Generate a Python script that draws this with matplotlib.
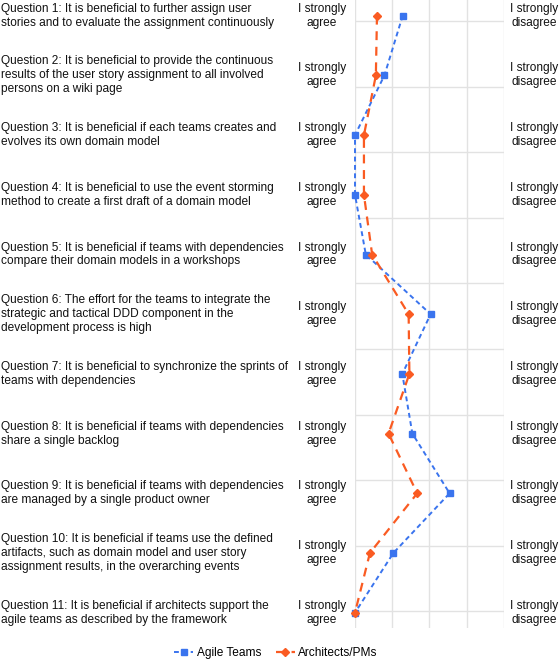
import matplotlib
matplotlib.use("Agg")
import matplotlib.pyplot as plt
from matplotlib.transforms import blended_transform_factory
from matplotlib.lines import Line2D

plt.rcParams["font.family"] = ["Liberation Sans", "DejaVu Sans"]

questions = [
    "Question 1: It is beneficial to further assign user\nstories and to evaluate the assignment continuously",
    "Question 2: It is beneficial to provide the continuous\nresults of the user story assignment to all involved\npersons on a wiki page",
    "Question 3: It is beneficial if each teams creates and\nevolves its own domain model",
    "Question 4: It is beneficial to use the event storming\nmethod to create a first draft of a domain model",
    "Question 5: It is beneficial if teams with dependencies\ncompare their domain models in a workshops",
    "Question 6: The effort for the teams to integrate the\nstrategic and tactical DDD component in the\ndevelopment process is high",
    "Question 7: It is beneficial to synchronize the sprints of\nteams with dependencies",
    "Question 8: It is beneficial if teams with dependencies\nshare a single backlog",
    "Question 9: It is beneficial if teams with dependencies\nare managed by a single product owner",
    "Question 10: It is beneficial if teams use the defined\nartifacts, such as domain model and user story\nassignment results, in the overarching events",
    "Question 11: It is beneficial if architects support the\nagile teams as described by the framework",
]
agile_teams = [2.28, 1.79, 1.0, 1.0, 1.29, 3.03, 2.27, 2.54, 3.54, 2.03, 1.0]
architects = [1.59, 1.56, 1.24, 1.24, 1.46, 2.44, 2.46, 1.90, 2.67, 1.40, 1.0]
scale_ticks = [1, 2, 3, 4, 5]

BLUE = "#3a74ee"
ORANGE = "#fa5b22"
GRID = "#e2e2e2"
FS = 8.6

W, H = 560, 660
fig = plt.figure(figsize=(W / 100, H / 100), dpi=100)

# axes placed in pixel terms: x 355..504, y 0..628
ax = fig.add_axes([355 / W, 1 - 628 / H, (504 - 355) / W, 628 / H])
row0, row_h = 15.7, 59.7
ax.set_ylim((628 - row0) / row_h, (0 - row0) / row_h)
ax.set_xlim(scale_ticks[0], scale_ticks[-1])

for x in scale_ticks:
    ax.axvline(x, color=GRID, lw=1, zorder=0)
for k in range(10):
    ax.axhline((21 + 65.6 * k - row0) / row_h, color=GRID, lw=1, zorder=0)

ys = list(range(len(questions)))
ax.plot(agile_teams, ys, color=BLUE, lw=1.4, ls=(0, (2.5, 1.8)), marker="s",
        markersize=5, clip_on=False, zorder=3)
ax.plot(architects, ys, color=ORANGE, lw=1.6, ls=(0, (4, 3)), marker="D",
        markersize=4, clip_on=False, zorder=4)

for s in ax.spines.values():
    s.set_visible(False)
ax.set_xticks([])
ax.set_yticks([])

tr = blended_transform_factory(fig.transFigure, ax.transData)
for i, q in enumerate(questions):
    fig.text(1 / W, i, q, transform=tr, ha="left", va="center", fontsize=FS,
             linespacing=1.22, color="#111111")
    fig.text(322 / W, i, "I strongly\nagree", transform=tr, ha="center", va="center",
             fontsize=FS, linespacing=1.22, color="#111111")
    fig.text(534 / W, i, "I strongly\ndisagree", transform=tr, ha="center", va="center",
             fontsize=FS, linespacing=1.22, color="#111111")

handles = [
    Line2D([], [], color=BLUE, lw=1.4, ls=(0, (2.5, 1.8)), marker="s", markersize=5),
    Line2D([], [], color=ORANGE, lw=1.6, ls=(0, (4, 3)), marker="D", markersize=4),
]
fig.legend(handles, ["Agile Teams", "Architects/PMs"], loc="center",
           bbox_to_anchor=(276 / W, 1 - 653 / H), ncol=2, frameon=False,
           fontsize=FS, handlelength=1.6, handletextpad=0.3, columnspacing=1.2)

fig.savefig("out.png", dpi=100)
